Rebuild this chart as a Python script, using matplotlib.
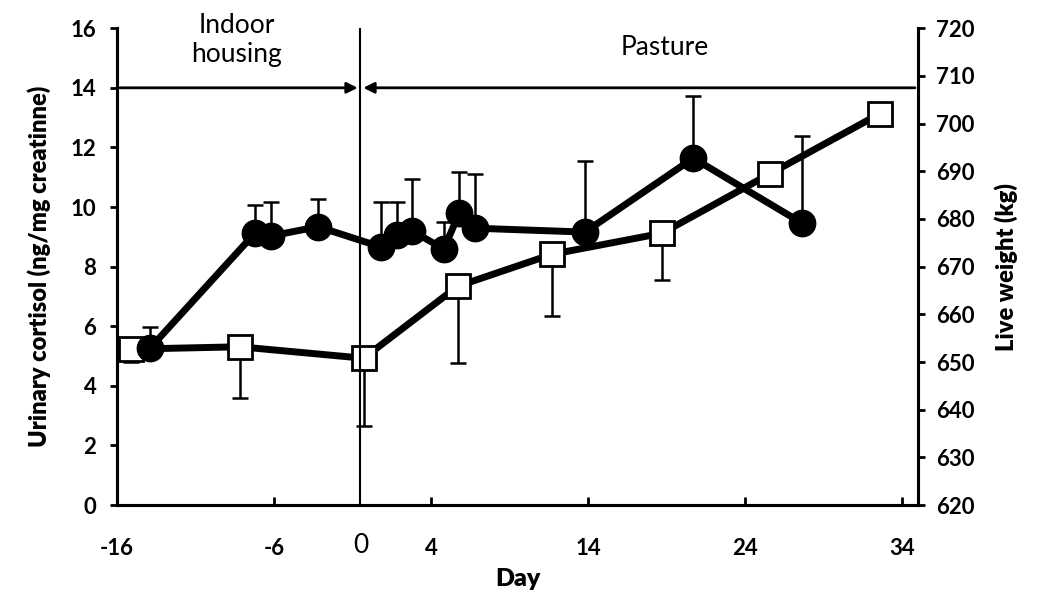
import matplotlib.pyplot as plt

# urinary cortisol (filled circles, left axis), upper error only
cort_day = [-13.9, -7.2, -6.2, -3.2, 0.8, 1.8, 2.8, 4.8, 5.8, 6.8, 13.8, 20.7, 27.6]
cort = [5.27, 9.14, 9.03, 9.34, 8.66, 9.06, 9.2, 8.59, 9.8, 9.29, 9.16, 11.64, 9.47]
cort_err = [0.7, 0.93, 1.14, 0.93, 1.52, 1.12, 1.74, 0.91, 1.37, 1.81, 2.38, 2.09, 2.91]

# live weight (open squares, right axis), lower error only
lw_day = [-15.1, -8.2, -0.3, 5.7, 11.7, 18.7, 25.6, 32.6]
lw = [652.7, 653.2, 650.8, 665.9, 672.6, 677.0, 689.5, 702.1]
lw_err = [2.7, 10.8, 14.2, 16.0, 12.9, 9.8, 0, 0]

xticks = [-16, -6, 4, 14, 24, 34]

plt.rcParams['font.family'] = ['Lato', 'DejaVu Sans']
plt.rcParams['axes.unicode_minus'] = False

fig = plt.figure(figsize=(10.37, 6.13), dpi=100)
ax = fig.add_axes([0.113, 0.176, 0.772, 0.778])
ax2 = ax.twinx()
ax.set_zorder(ax2.get_zorder() + 1)
ax.patch.set_visible(False)

ax2.errorbar(lw_day, lw, yerr=[lw_err, [0] * len(lw_err)], fmt='none',
             ecolor='black', elinewidth=1.8, capsize=6, capthick=1.8, zorder=2)
ax2.plot(lw_day, lw, color='black', lw=5, marker='s', ms=17, mfc='white',
         mec='black', mew=2, zorder=3)

ax.errorbar(cort_day, cort, yerr=[[0] * len(cort_err), cort_err], fmt='none',
            ecolor='black', elinewidth=1.8, capsize=6, capthick=1.8, zorder=2)
ax.plot(cort_day, cort, color='black', lw=5, marker='o', ms=19, mfc='black',
        mec='black', zorder=3)

ax.set_xlim(-16, 35)
ax.set_ylim(0, 16)
ax2.set_ylim(620, 720)
ax.set_xticks(xticks)
ax.set_yticks(range(0, 17, 2))
ax2.set_yticks(range(620, 721, 10))

# period divider and arrows
ax.axvline(-0.5, color='black', lw=1.5, zorder=1)
ax.annotate('', xy=(-0.5, 14), xytext=(-16, 14),
            arrowprops=dict(arrowstyle='-|>', color='black', lw=2, mutation_scale=16))
ax.annotate('', xy=(-0.5, 14), xytext=(35, 14),
            arrowprops=dict(arrowstyle='-|>', color='black', lw=2, mutation_scale=16))
ax.text(-8.4, 15.6, 'Indoor\nhousing', ha='center', va='center', fontsize=19, linespacing=1.2)
ax.text(18.9, 15.35, 'Pasture', ha='center', va='center', fontsize=19)
ax.text(-0.5, -0.95, '0', ha='center', va='top', fontsize=19)

for a in (ax, ax2):
    for s in a.spines.values():
        s.set_linewidth(2.2)
    a.spines['top'].set_visible(False)
ax.tick_params(axis='y', direction='out', length=5, width=2, labelsize=16, pad=10)
ax2.tick_params(axis='y', direction='out', length=5, width=2, labelsize=16, pad=8)
ax.tick_params(axis='x', direction='in', length=6, width=2, labelsize=16, pad=24)
for lab in ax.get_xticklabels() + ax.get_yticklabels() + ax2.get_yticklabels():
    lab.set_fontweight('bold')

ax.set_xlabel('Day', fontsize=18, fontweight='heavy', labelpad=6)
ax.set_ylabel('Urinary cortisol (ng/mg creatinne)', fontsize=17, fontweight='heavy', labelpad=14)
ax2.set_ylabel('Live weight (kg)', fontsize=17, fontweight='heavy', labelpad=14)

fig.savefig('out.png', dpi=100)
